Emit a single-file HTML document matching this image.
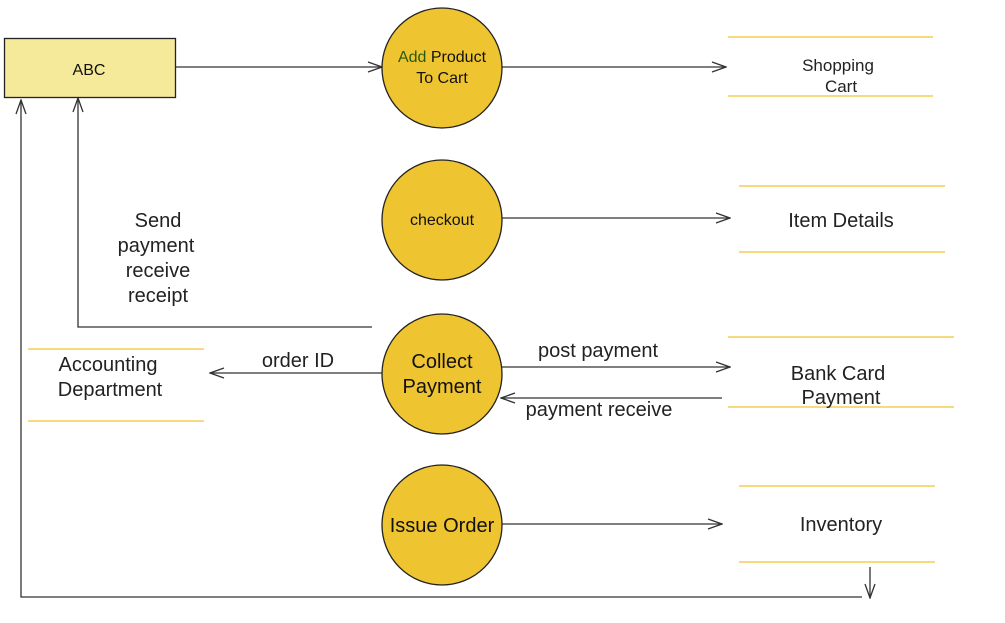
<!DOCTYPE html>
<html><head><meta charset="utf-8"><style>
html,body{margin:0;padding:0;background:#fff;}
svg{display:block;font-family:"Liberation Sans",sans-serif;}
</style></head><body>
<svg width="1005" height="623" viewBox="0 0 1005 623" xmlns="http://www.w3.org/2000/svg">
<defs>
<marker id="a" markerWidth="16" markerHeight="12" refX="15" refY="6" orient="auto" markerUnits="userSpaceOnUse">
<path d="M1,1 L15,6 L1,11" fill="none" stroke="#333" stroke-width="1.3"/>
</marker>
</defs>
<g stroke="#333" stroke-width="1.3" fill="none">
<line x1="175" y1="67" x2="382" y2="67" marker-end="url(#a)"/>
<line x1="502" y1="67" x2="726" y2="67" marker-end="url(#a)"/>
<line x1="502" y1="218" x2="730" y2="218" marker-end="url(#a)"/>
<line x1="502" y1="367" x2="730" y2="367" marker-end="url(#a)"/>
<line x1="722" y1="398" x2="501" y2="398" marker-end="url(#a)"/>
<line x1="382" y1="373" x2="210" y2="373" marker-end="url(#a)"/>
<line x1="502" y1="524" x2="722" y2="524" marker-end="url(#a)"/>
<polyline points="372,327 78,327 78,98" marker-end="url(#a)"/>
<line x1="870" y1="567" x2="870" y2="598" marker-end="url(#a)"/>
<polyline points="862,597 21,597 21,100" marker-end="url(#a)"/>
</g>
<rect x="4.5" y="38.5" width="171" height="59" fill="#f5e99a" stroke="#222" stroke-width="1.3"/>
<text x="89" y="75" font-size="16" text-anchor="middle" fill="#111">ABC</text>
<g fill="#efc431" stroke="#222" stroke-width="1.3">
<circle cx="442" cy="68" r="60"/>
<circle cx="442" cy="220" r="60"/>
<circle cx="442" cy="374" r="60"/>
<circle cx="442" cy="525" r="60"/>
</g>
<g font-size="16" text-anchor="middle" fill="#111">
<text x="442" y="62"><tspan fill="#2a5a10">Add</tspan> Product</text>
<text x="442" y="83">To Cart</text>
<text x="442" y="225">checkout</text>
<text x="442" y="368" font-size="20">Collect</text>
<text x="442" y="393" font-size="20">Payment</text>
<text x="442" y="532" font-size="20">Issue Order</text>
</g>
<g stroke="#efc431" stroke-width="1.3">
<line x1="728" y1="37" x2="933" y2="37"/><line x1="728" y1="96" x2="933" y2="96"/>
<line x1="739" y1="186" x2="945" y2="186"/><line x1="739" y1="252" x2="945" y2="252"/>
<line x1="728" y1="337" x2="954" y2="337"/><line x1="728" y1="407" x2="954" y2="407"/>
<line x1="739" y1="486" x2="935" y2="486"/><line x1="739" y1="562" x2="935" y2="562"/>
<line x1="28" y1="349" x2="204" y2="349"/><line x1="28" y1="421" x2="204" y2="421"/>
</g>
<g font-size="20" text-anchor="middle" fill="#222">
<text x="838" y="71" font-size="17">Shopping</text>
<text x="841" y="92" font-size="17">Cart</text>
<text x="841" y="227">Item Details</text>
<text x="838" y="380">Bank Card</text>
<text x="841" y="404">Payment</text>
<text x="841" y="531">Inventory</text>
<text x="108" y="371">Accounting</text>
<text x="110" y="396">Department</text>
<text x="158" y="227">Send</text>
<text x="156" y="252">payment</text>
<text x="158" y="277">receive</text>
<text x="158" y="302">receipt</text>
<text x="298" y="367">order ID</text>
<text x="598" y="357">post payment</text>
<text x="599" y="416">payment receive</text>
</g>
</svg>
</body></html>
